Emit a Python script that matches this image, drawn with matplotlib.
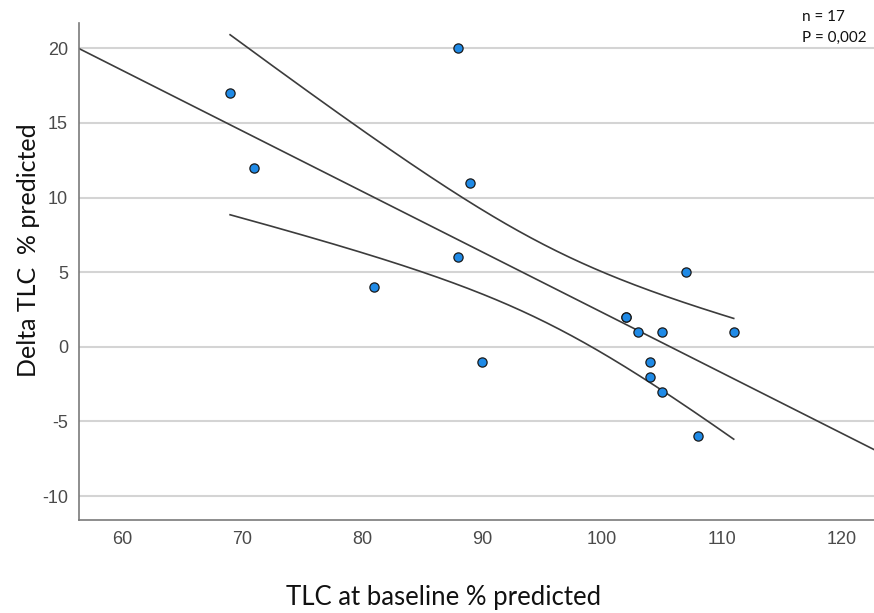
import matplotlib
matplotlib.use("Agg")
import matplotlib.pyplot as plt
import numpy as np

plt.rcParams["axes.unicode_minus"] = False

# TLC at baseline (% predicted) vs change in TLC, 17 patients
tlc_baseline = [69, 71, 81, 88, 88, 89, 90, 102, 102, 103, 104, 104, 105, 105, 107, 108, 111]
delta_tlc = [17, 12, 4, 20, 6, 11, -1, 2, 2, 1, -1, -2, 1, -3, 5, -6, 1]
y_ticks = [-10, -5, 0, 5, 10, 15, 20]
x_ticks = [60, 70, 80, 90, 100, 110, 120]
stats_text = "n = 17\nP = 0,002"

x = np.array(tlc_baseline, dtype=float)
y = np.array(delta_tlc, dtype=float)
n = len(x)

# linear fit + 95% CI of the mean
slope, intercept = np.polyfit(x, y, 1)
resid = y - (slope * x + intercept)
s = np.sqrt(np.sum(resid ** 2) / (n - 2))
sxx = np.sum((x - x.mean()) ** 2)
t_crit = 2.131  # t(0.975, df=15)

fig = plt.figure(figsize=(8.74, 6.13), dpi=100)
ax = fig.add_axes([0.0904, 0.1517, 0.9096, 0.8108])

xlim = (56.4, 122.7)
ax.set_xlim(*xlim)
ax.set_ylim(-11.6, 21.7)

ax.set_yticks(y_ticks)
ax.set_xticks(x_ticks)
ax.yaxis.grid(True, color="#d4d4d4", lw=1.5)
ax.set_axisbelow(True)
ax.tick_params(length=0, labelsize=13, labelcolor="#4a4a4a", pad=8)
for lab in ax.get_xticklabels() + ax.get_yticklabels():
    lab.set_family("Liberation Sans")

for side in ["top", "right"]:
    ax.spines[side].set_visible(False)
for side in ["left", "bottom"]:
    ax.spines[side].set_color("#7a7a7a")
    ax.spines[side].set_linewidth(1.2)

# regression line over full axis
xx = np.linspace(xlim[0], xlim[1], 100)
ax.plot(xx, slope * xx + intercept, color="#3c3c3c", lw=1.2, zorder=2)

# confidence band over data range
xb = np.linspace(x.min(), x.max(), 200)
half = t_crit * s * np.sqrt(1 / n + (xb - x.mean()) ** 2 / sxx)
yb = slope * xb + intercept
ax.plot(xb, yb + half, color="#3c3c3c", lw=1.2, zorder=2)
ax.plot(xb, yb - half, color="#3c3c3c", lw=1.2, zorder=2)

ax.scatter(x, y, s=44, color="#1f8ae6", edgecolor="#1a1a1a", lw=0.9, zorder=3)

ax.set_xlabel("TLC at baseline % predicted", fontsize=18.5, family="Lato",
              color="#111111", va="center")
ax.xaxis.set_label_coords(0.458, -0.155)
ax.set_ylabel("Delta TLC  % predicted", fontsize=18, family="Lato",
              color="#111111", va="center")
ax.yaxis.set_label_coords(-0.064, 0.543)

fig.text(0.918, 0.983, stats_text, ha="left", va="top", fontsize=11,
         family="Lato", color="#111111", linespacing=1.6)

fig.savefig("out.png", dpi=100)
